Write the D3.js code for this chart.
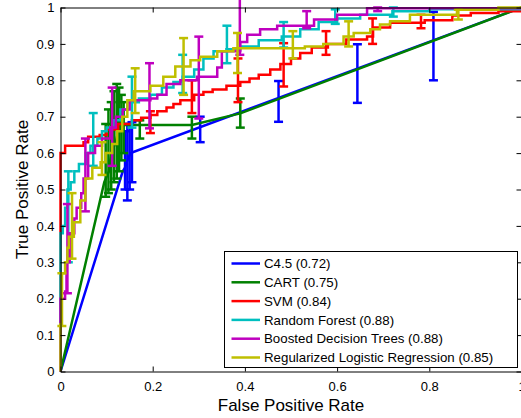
<!DOCTYPE html>
<html>
<head>
<meta charset="utf-8">
<script src="https://cdn.jsdelivr.net/npm/d3@7"></script>
<style>
	body { margin: 0; background: #fff; }
	svg { display: block; font-family: "Liberation Sans", Arial, Helvetica, sans-serif; }
	.roc-axis path, .roc-axis line { stroke: #000; stroke-width: 1; }
	.roc-axis text { font-size: 13px; fill: #000; font-family: "Liberation Sans", Arial, sans-serif; }
</style>
</head>
<body>
<svg id="chart" width="521" height="418"></svg>
<script>

// series names and AUC
var aSeriesNames = ['C4.5', 'CART', 'SVM', 'Random Forest', 'Boosted Decision Trees', 'Regularized Logistic Regression'];
var aSeriesAuc = [0.72, 0.75, 0.84, 0.88, 0.88, 0.85];

// ROC points [fpr, tpr]
var aC45Roc = [[0,0],[0.135,0.55],[0.14,0.56],[0.145,0.58],[0.152,0.60],[1,1]];
var aCartRoc = [[0,0],[0.095,0.52],[0.105,0.55],[0.11,0.6],[0.12,0.63],[0.125,0.66],[0.135,0.677],[0.285,0.677],[0.39,0.709],[1,1]];
var aSvmRoc = [[0,0],[0,0.6],[0.01,0.62],[0.05,0.63],[0.06,0.645],[0.085,0.65],[0.1,0.665],[0.125,0.68],[0.155,0.69],[0.175,0.697],[0.195,0.705],
	[0.21,0.715],[0.23,0.725],[0.245,0.735],[0.26,0.745],[0.29,0.76],[0.31,0.768],[0.33,0.775],[0.36,0.785],[0.39,0.795],[0.41,0.805],[0.43,0.815],
	[0.455,0.83],[0.477,0.845],[0.5,0.86],[0.52,0.875],[0.545,0.89],[0.58,0.9],[0.62,0.912],
	[0.665,0.92],[0.678,0.945],[0.715,0.958],[0.79,0.965],[0.85,0.978],[0.89,0.985],[0.95,0.99],[1,1]];
var aRfRoc = [[0,0],[0,0.38],[0.005,0.4],[0.01,0.45],[0.015,0.5],[0.022,0.52],[0.03,0.55],[0.04,0.57],[0.055,0.6],[0.065,0.62],
	[0.08,0.64],[0.09,0.66],[0.1,0.67],[0.115,0.69],[0.13,0.72],[0.145,0.74],[0.17,0.75],[0.195,0.76],[0.22,0.78],[0.245,0.795],
	[0.265,0.81],[0.29,0.83],[0.31,0.86],[0.332,0.88],[0.36,0.885],[0.39,0.893],[0.43,0.91],[0.48,0.92],[0.52,0.94],[0.56,0.96],
	[0.6,0.97],[0.65,0.98],[0.72,0.99],[0.8,0.995],[1,1]];
var aBdtRoc = [[0,0],[0,0.2],[0.01,0.22],[0.013,0.3],[0.02,0.38],[0.03,0.42],[0.035,0.45],[0.045,0.49],[0.05,0.53],[0.06,0.6],
	[0.075,0.62],[0.09,0.64],[0.108,0.67],[0.12,0.7],[0.135,0.72],[0.15,0.745],[0.195,0.75],[0.21,0.76],[0.23,0.79],[0.26,0.8],
	[0.296,0.81],[0.34,0.835],[0.35,0.88],[0.39,0.905],[0.405,0.925],[0.433,0.94],[0.47,0.95],[0.55,0.967],[0.6,0.98],[0.665,0.998],[1,1]];
var aRlrRoc = [[0,0],[0,0.13],[0.003,0.27],[0.01,0.3],[0.015,0.34],[0.018,0.37],[0.029,0.41],[0.043,0.47],[0.054,0.53],[0.069,0.56],
	[0.087,0.575],[0.098,0.6],[0.112,0.625],[0.123,0.66],[0.134,0.7],[0.145,0.745],[0.159,0.77],[0.195,0.785],[0.223,0.81],[0.249,0.838],
	[0.282,0.855],[0.303,0.865],[0.34,0.88],[0.375,0.888],[0.53,0.893],[0.57,0.9],[0.614,0.92],[0.636,0.93],[0.672,0.94],[0.693,0.953],
	[0.715,0.962],[0.758,0.98],[0.86,0.994],[0.95,1],[1,1]];

// error bars [fpr, low, high]
var aC45Err = [[0.14,0.5,0.66],[0.145,0.47,0.68],[0.15,0.5,0.68],[0.155,0.52,0.685],[0.303,0.63,0.70],[0.473,0.686,0.798],[0.644,0.738,0.899],[0.809,0.80,0.988]];
var aCartErr = [[0.098,0.48,0.68],[0.104,0.49,0.72],[0.11,0.5,0.74],[0.116,0.52,0.77],[0.122,0.53,0.79],[0.127,0.55,0.78],
	[0.132,0.58,0.76],[0.137,0.6,0.74],[0.172,0.64,0.69],[0.285,0.64,0.70],[0.39,0.67,0.75]];
var aSvmErr = [[0.195,0.655,0.715],[0.285,0.71,0.80],[0.385,0.74,0.86],[0.484,0.783,0.902],[0.576,0.87,0.935],[0.677,0.90,0.97],[0.782,0.943,0.98]];
var aRfErr = [[0.017,0.30,0.55],[0.071,0.565,0.71],[0.155,0.67,0.81],[0.265,0.765,0.87],[0.361,0.847,0.95],[0.484,0.89,0.96],[0.596,0.955,0.995],[0.722,0.975,1.0]];
var aBdtErr = [[0.015,0.215,0.46],[0.054,0.44,0.64],[0.112,0.565,0.78],[0.193,0.668,0.847],[0.3,0.695,0.92],[0.389,0.87,1.03],[0.534,0.943,0.99],[0.688,0.99,1.0]];
var aRlrErr = [[0.003,0.125,0.27],[0.025,0.31,0.49],[0.09,0.54,0.63],[0.162,0.71,0.833],[0.267,0.76,0.916],[0.384,0.82,0.93],[0.504,0.86,0.935],[0.625,0.893,0.962],[0.863,0.967,0.994]];

var aXTicks = [0, 0.2, 0.4, 0.6, 0.8, 1];
var aYTicks = [0, 0.1, 0.2, 0.3, 0.4, 0.5, 0.6, 0.7, 0.8, 0.9, 1];


function D3_RocChart(vSelector)
{
	var sSvg = d3.select(vSelector);

	var aColors = ['#0000ff', '#008000', '#ff0000', '#00bfbf', '#bf00bf', '#bfbf00'];
	var aStep = [false, false, true, true, true, true];
	var aRocs = [aC45Roc, aCartRoc, aSvmRoc, aRfRoc, aBdtRoc, aRlrRoc];
	var aErrs = [aC45Err, aCartErr, aSvmErr, aRfErr, aBdtErr, aRlrErr];

	var nLeft = 60.5;
	var nRight = 521.5;
	var nTop = 7.5;
	var nBottom = 371.5;
	var nCap = 4.5;
	var nLineWidth = 2.5;

	var scaleX = d3.scaleLinear().domain([0, 1]).range([nLeft, nRight]);
	var scaleY = d3.scaleLinear().domain([0, 1]).range([nBottom, nTop]);

	var fmtTick = function(f)
	{
		return String(+f.toFixed(1));
	};

	var sPlot = sSvg.append('g').attr('class', 'roc-plot');

	aRocs.forEach(function(aRoc, i)
	{
		var line = d3.line()
			.x(function(p) { return scaleX(p[0]); })
			.y(function(p) { return scaleY(p[1]); })
			.curve(aStep[i] ? d3.curveStepAfter : d3.curveLinear);

		var sSeries = sPlot.append('g')
			.attr('stroke', aColors[i])
			.attr('stroke-width', nLineWidth)
			.attr('fill', 'none');

		sSeries.append('path')
			.attr('d', line(aRoc))
			.attr('stroke-linejoin', 'miter');

		var sBars = sSeries.selectAll('.roc-err')
			.data(aErrs[i])
			.enter()
				.append('g')
					.attr('class', 'roc-err');

		sBars.append('line')
			.attr('x1', function(e) { return scaleX(e[0]); })
			.attr('x2', function(e) { return scaleX(e[0]); })
			.attr('y1', function(e) { return scaleY(e[1]); })
			.attr('y2', function(e) { return scaleY(e[2]); });

		sBars.append('line')
			.attr('x1', function(e) { return scaleX(e[0]) - nCap; })
			.attr('x2', function(e) { return scaleX(e[0]) + nCap; })
			.attr('y1', function(e) { return scaleY(e[1]); })
			.attr('y2', function(e) { return scaleY(e[1]); });

		sBars.append('line')
			.attr('x1', function(e) { return scaleX(e[0]) - nCap; })
			.attr('x2', function(e) { return scaleX(e[0]) + nCap; })
			.attr('y1', function(e) { return scaleY(e[2]); })
			.attr('y2', function(e) { return scaleY(e[2]); });
	});

	// axes, ticks pointing inward like matlab
	sSvg.append('g')
		.attr('class', 'roc-axis')
		.attr('transform', 'translate(0,' + nBottom + ')')
		.call(d3.axisBottom(scaleX).tickValues(aXTicks).tickSizeInner(-5).tickSizeOuter(0).tickPadding(10).tickFormat(fmtTick));

	sSvg.append('g')
		.attr('class', 'roc-axis')
		.attr('transform', 'translate(0,' + nTop + ')')
		.call(d3.axisTop(scaleX).tickValues(aXTicks).tickSizeInner(-5).tickSizeOuter(0).tickFormat(''));

	sSvg.append('g')
		.attr('class', 'roc-axis')
		.attr('transform', 'translate(' + nLeft + ',0)')
		.call(d3.axisLeft(scaleY).tickValues(aYTicks).tickSizeInner(-5).tickSizeOuter(0).tickPadding(6).tickFormat(fmtTick));

	sSvg.append('g')
		.attr('class', 'roc-axis')
		.attr('transform', 'translate(' + nRight + ',0)')
		.call(d3.axisRight(scaleY).tickValues(aYTicks).tickSizeInner(-5).tickSizeOuter(0).tickFormat(''));

	sSvg.append('text')
		.attr('x', (nLeft + nRight) / 2)
		.attr('y', 411)
		.attr('text-anchor', 'middle')
		.style('font-size', '17px')
		.text('False Positive Rate');

	sSvg.append('text')
		.attr('transform', 'translate(28,' + ((nTop + nBottom) / 2) + ') rotate(-90)')
		.attr('text-anchor', 'middle')
		.style('font-size', '17px')
		.text('True Positive Rate');

	// legend
	var sLegend = sSvg.append('g').attr('class', 'roc-legend');

	sLegend.append('rect')
		.attr('x', 224.5)
		.attr('y', 251.5)
		.attr('width', 293)
		.attr('height', 116)
		.attr('fill', '#fff')
		.attr('stroke', '#000')
		.attr('stroke-width', 1);

	var sItems = sLegend.selectAll('.roc-legend-item')
		.data(aSeriesNames)
		.enter()
			.append('g')
				.attr('class', 'roc-legend-item')
				.attr('transform', function(d, i)
					{
						return 'translate(0,' + (263.5 + i * 18.8) + ')';
					});

	sItems.append('line')
		.attr('x1', 231.5)
		.attr('x2', 260)
		.attr('stroke', function(d, i) { return aColors[i]; })
		.attr('stroke-width', nLineWidth);

	sItems.append('text')
		.attr('x', 264)
		.attr('dy', '0.35em')
		.style('font-size', '13.3px')
		.text(function(d, i)
			{
				return d + ' (' + aSeriesAuc[i].toFixed(2) + ')';
			});
}

D3_RocChart('#chart');

</script>
</body>
</html>
